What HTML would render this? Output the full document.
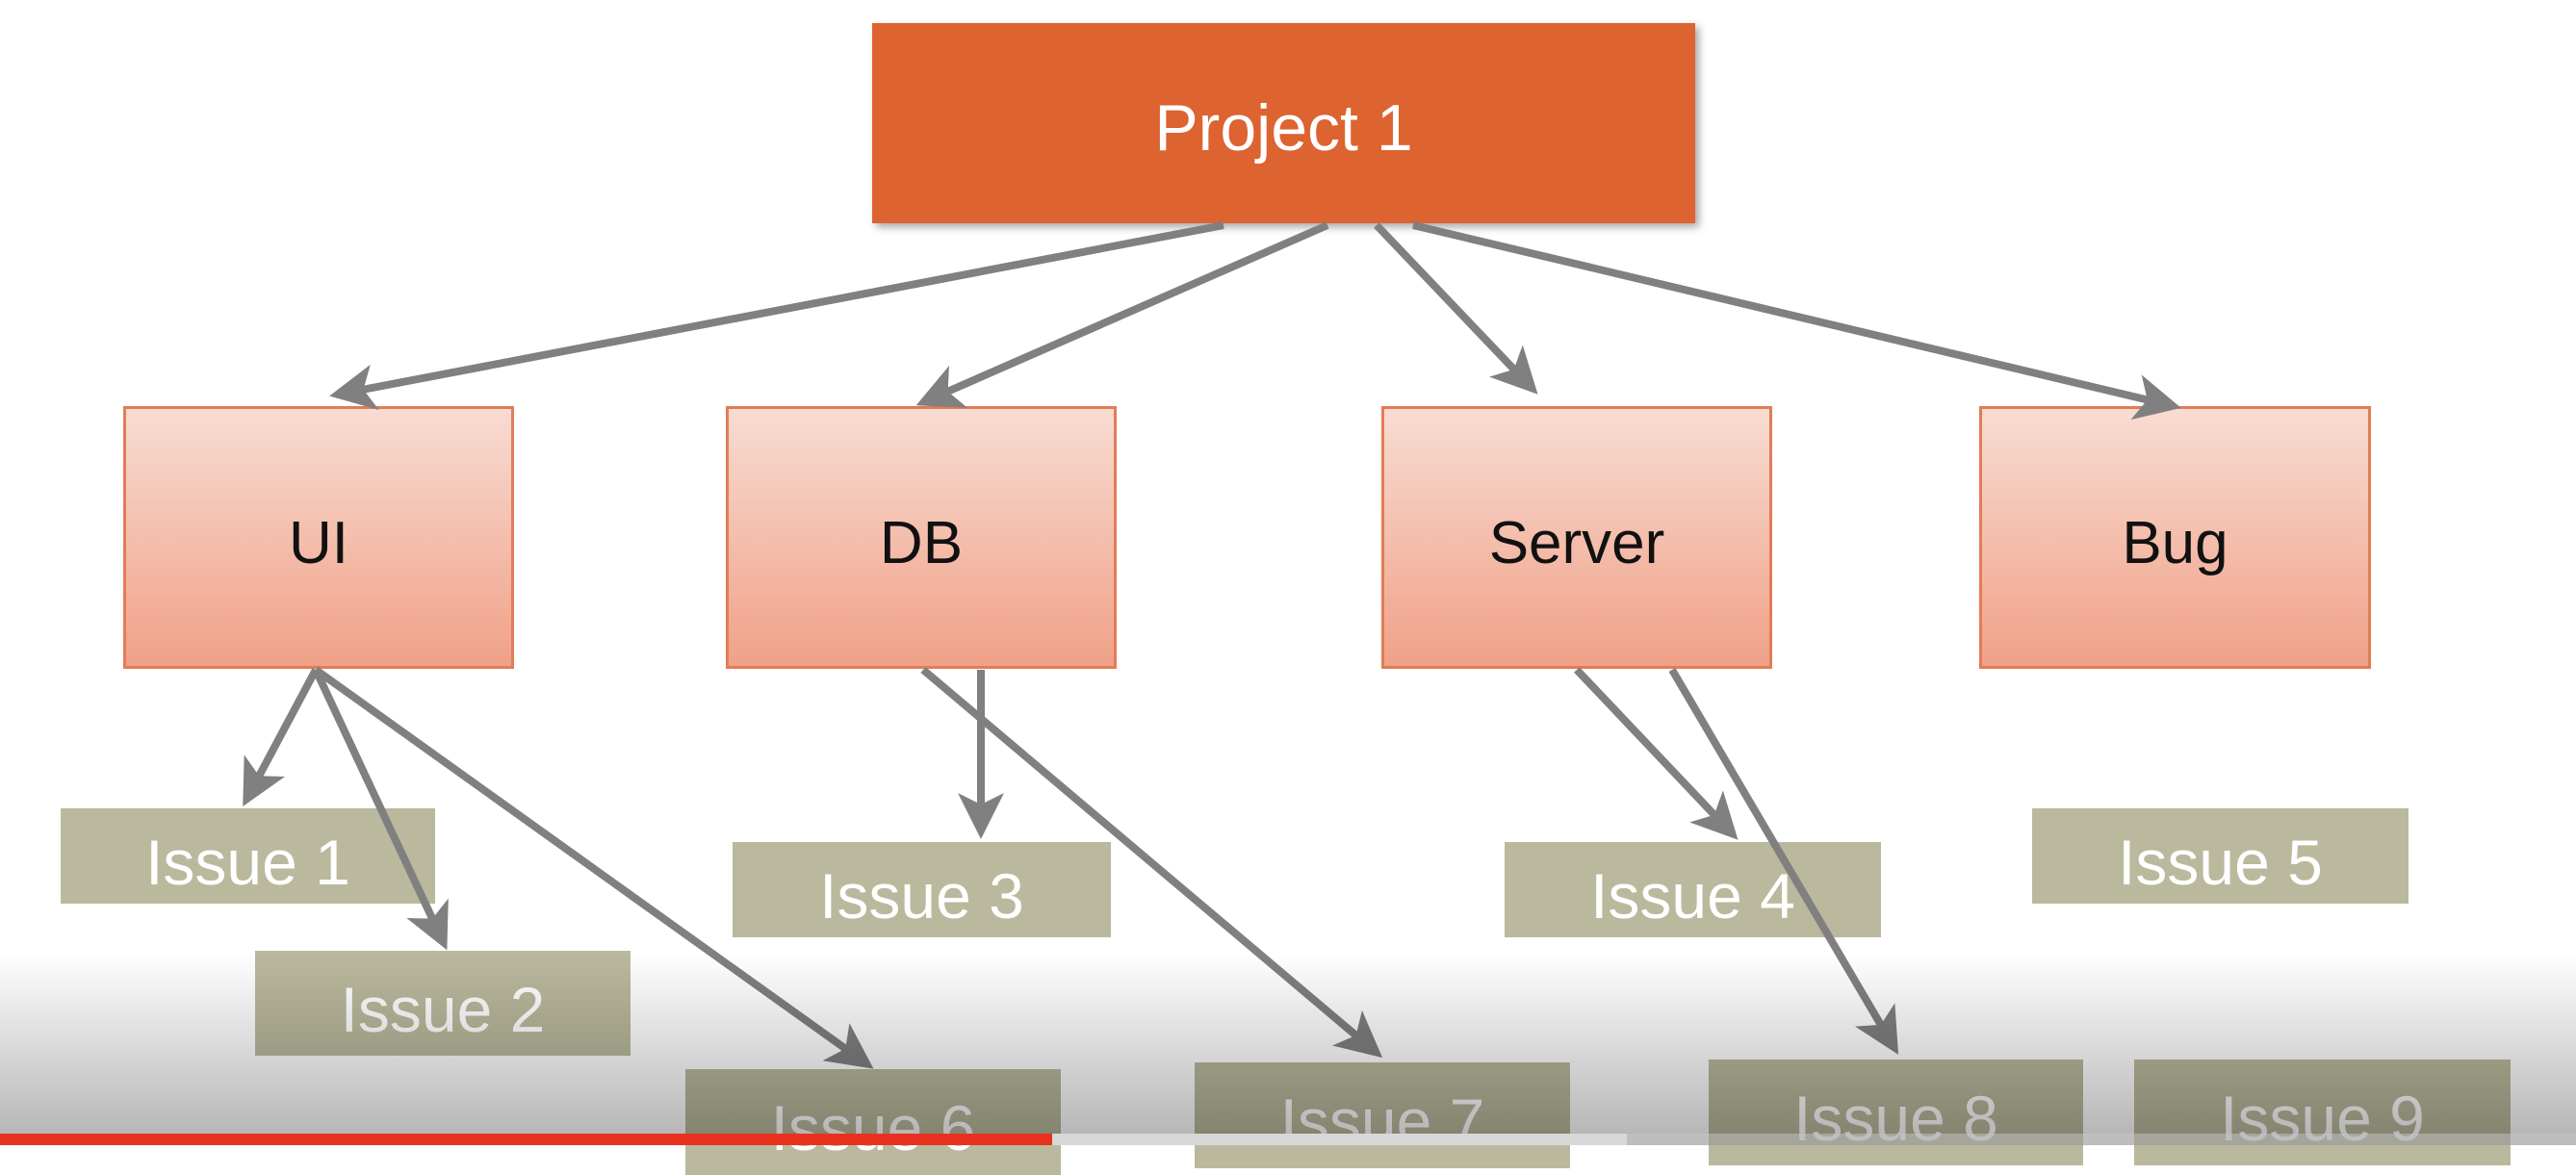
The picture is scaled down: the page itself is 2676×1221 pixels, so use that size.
<!DOCTYPE html>
<html><head><meta charset="utf-8"><style>
html,body{margin:0;padding:0;width:2676px;height:1190px;overflow:hidden;background:#fff;font-family:"Liberation Sans",sans-serif}
.b{position:absolute;display:flex;align-items:center;justify-content:center;box-sizing:border-box}
.p{background:#dd6331;color:#fff;font-size:68px;box-shadow:4px 4px 8px rgba(0,0,0,.35);padding-top:10px}
.c{background:linear-gradient(#f8dcd2,#f0a188);border:3px solid #e27c57;color:#111;font-size:62px;padding-top:12px}
.i{background:#bab99d;color:#fff;font-size:66px;padding-top:12px}
</style></head><body>
<div class="b p" style="left:906px;top:24px;width:855px;height:208px">Project 1</div>
<div class="b c" style="left:128px;top:422px;width:406px;height:273px">UI</div>
<div class="b c" style="left:754px;top:422px;width:406px;height:273px">DB</div>
<div class="b c" style="left:1435px;top:422px;width:406px;height:273px">Server</div>
<div class="b c" style="left:2056px;top:422px;width:407px;height:273px">Bug</div>
<div class="b i" style="left:63px;top:840px;width:389px;height:99px">Issue 1</div>
<div class="b i" style="left:265px;top:988px;width:390px;height:109px">Issue 2</div>
<div class="b i" style="left:761px;top:875px;width:393px;height:99px">Issue 3</div>
<div class="b i" style="left:1563px;top:875px;width:391px;height:99px">Issue 4</div>
<div class="b i" style="left:2111px;top:840px;width:391px;height:99px">Issue 5</div>
<div class="b i" style="left:712px;top:1111px;width:390px;height:110px">Issue 6</div>
<div class="b i" style="left:1241px;top:1104px;width:390px;height:110px">Issue 7</div>
<div class="b i" style="left:1775px;top:1101px;width:389px;height:110px">Issue 8</div>
<div class="b i" style="left:2217px;top:1101px;width:391px;height:110px">Issue 9</div>
<svg style="position:absolute;left:0;top:0" width="2676" height="1190">
<defs><marker id="a" markerWidth="6" markerHeight="6" refX="5" refY="3" orient="auto" markerUnits="strokeWidth"><path d="M0,0 L6,3 L0,6 L1.5,3 z" fill="#808080"/></marker></defs>
<g stroke="#808080" stroke-width="8" marker-end="url(#a)">
<line x1="1271" y1="234" x2="350" y2="410"/>
<line x1="1379" y1="234" x2="959" y2="418"/>
<line x1="1430" y1="234" x2="1592" y2="404"/>
<line x1="1468" y1="234" x2="2258" y2="422"/>
<line x1="328" y1="696" x2="256" y2="831"/>
<line x1="328" y1="696" x2="461" y2="980"/>
<line x1="328" y1="696" x2="901" y2="1106"/>
<line x1="1019" y1="696" x2="1019" y2="864"/>
<line x1="959" y1="696" x2="1430" y2="1094"/>
<line x1="1638" y1="696" x2="1800" y2="867"/>
<line x1="1737" y1="696" x2="1968" y2="1089"/>
</g></svg>
<div style="position:absolute;left:0;top:990px;width:2676px;height:200px;background:linear-gradient(rgba(0,0,0,0),rgba(0,0,0,.3))"></div>
<div style="position:absolute;left:0;top:1178px;width:2676px;height:12px;background:rgba(200,200,200,.5)"></div>
<div style="position:absolute;left:1093px;top:1178px;width:597px;height:12px;background:#d8d8d8"></div>
<div style="position:absolute;left:0;top:1178px;width:1093px;height:12px;background:#e8321f"></div>
</body></html>
